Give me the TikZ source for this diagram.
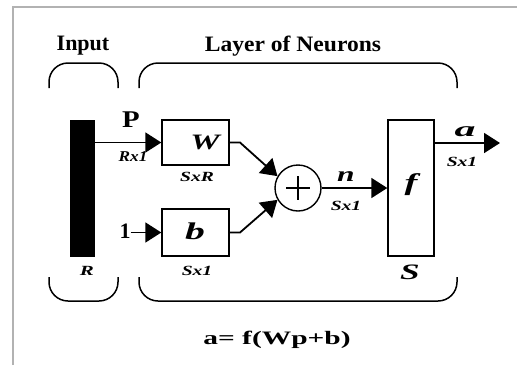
\documentclass[tikz,border=0pt]{standalone}
\usepackage{fontspec}
\setmainfont{Liberation Serif}
\usetikzlibrary{arrows.meta,calc}
\newcommand{\hs}[2]{\scalebox{#1}[1]{#2}}
\begin{document}
\begin{tikzpicture}[x=1pt,y=-1pt,
  title/.style={font=\fontsize{22}{24}\selectfont\bfseries, inner sep=0},
  bi/.style={font=\fontsize{#1}{#1}\selectfont\bfseries\itshape, inner sep=0},
  bu/.style={font=\fontsize{#1}{#1}\selectfont\bfseries, inner sep=0},
  blk/.style={draw, line width=1.4pt, inner sep=0},
  conn/.style={line width=1.8pt, -{Triangle[length=16pt,width=20pt]}},
  brace/.style={line width=1.5pt, rounded corners=19pt}]
\useasboundingbox (0,0) rectangle (517,365);
% frame
\draw[gray!60, line width=1.2pt] (13,365) -- (13,7) -- (517,7);
% titles
\node[title] (tin) at (83,46) {Input};
\node[title] (tlay) at (293,46) {\hs{1.07}{Layer of Neurons}};
% brackets
\draw[brace] (49,88) -- (49,63) -- (118,63) -- (118,88);
\draw[brace] (139,88) -- (139,63) -- (457,63) -- (457,88);
\draw[brace] (49,277) -- (49,301) -- (118,301) -- (118,277);
\draw[brace] (139,277) -- (139,301) -- (457,301) -- (457,277);
% blocks
\node[fill=black, minimum width=25, minimum height=137, inner sep=0] (bar) at (82.5,188.5) {};
\node[blk, minimum width=67, minimum height=45] (W) at (195.5,142.5) {};
\node[bi=22] (Wl) at (205,142) {\hs{1.5}{W}};
\node[blk, minimum width=67, minimum height=47] (b) at (195.5,232.5) {};
\node[bi=24] (bl) at (195,231) {\hs{1.65}{b}};
\node[blk, circle, minimum size=46] (sum) at (298,188) {};
\draw[line width=1.4pt] ($(sum.center)+(-12,0)$) -- ($(sum.center)+(12,0)$)
  ($(sum.center)+(0,-12)$) -- ($(sum.center)+(0,12)$);
\node[blk, minimum width=46, minimum height=136] (f) at (411,188) {};
\node[bi=24] (fl) at (411,185) {\hs{1.6}{f}};
% connectors
\draw[conn] (bar.east |- W.west) -- (W.west);
\node[bu=24] (P) at (131,120) {\hs{1.2}{P}};
\node[bi=15] (Rx1) at (133,157) {\hs{1.15}{Rx1}};
\node[bu=22] (one) at (125,231) {1};
\draw[conn] (one.east |- b.west) -- (b.west);
\coordinate (wk) at (240,142.5);
\coordinate (bk) at (240,232.5);
\draw[conn] (W.east) -- (wk) -- (sum.150);
\draw[conn] (b.east) -- (bk) -- (sum.210);
\draw[conn] (sum.east) -- (f.west);
\node[bi=21] (nl) at (346,177) {\hs{1.5}{n}};
\node[bi=14] (n1) at (346,206) {\hs{1.4}{Sx1}};
\coordinate (out) at (500,143);
\draw[conn] (f.east |- out) -- (out);
\node[bi=21] (al) at (465,132) {\hs{2}{a}};
\node[bi=14] (a1) at (462,162) {\hs{1.4}{Sx1}};
% dimension labels
\node[bi=14] (SR) at (197,177) {\hs{1.4}{SxR}};
\node[bi=14] (S1) at (197,271) {\hs{1.4}{Sx1}};
\node[bi=14] (Rl) at (87,271) {\hs{1.5}{R}};
\node[bi=22] (Sl) at (410,272) {\hs{1.6}{S}};
% formula
\node[bu=19] (eq) at (277,340) {\hs{1.55}{a= f(Wp+b)}};
\end{tikzpicture}
\end{document}
